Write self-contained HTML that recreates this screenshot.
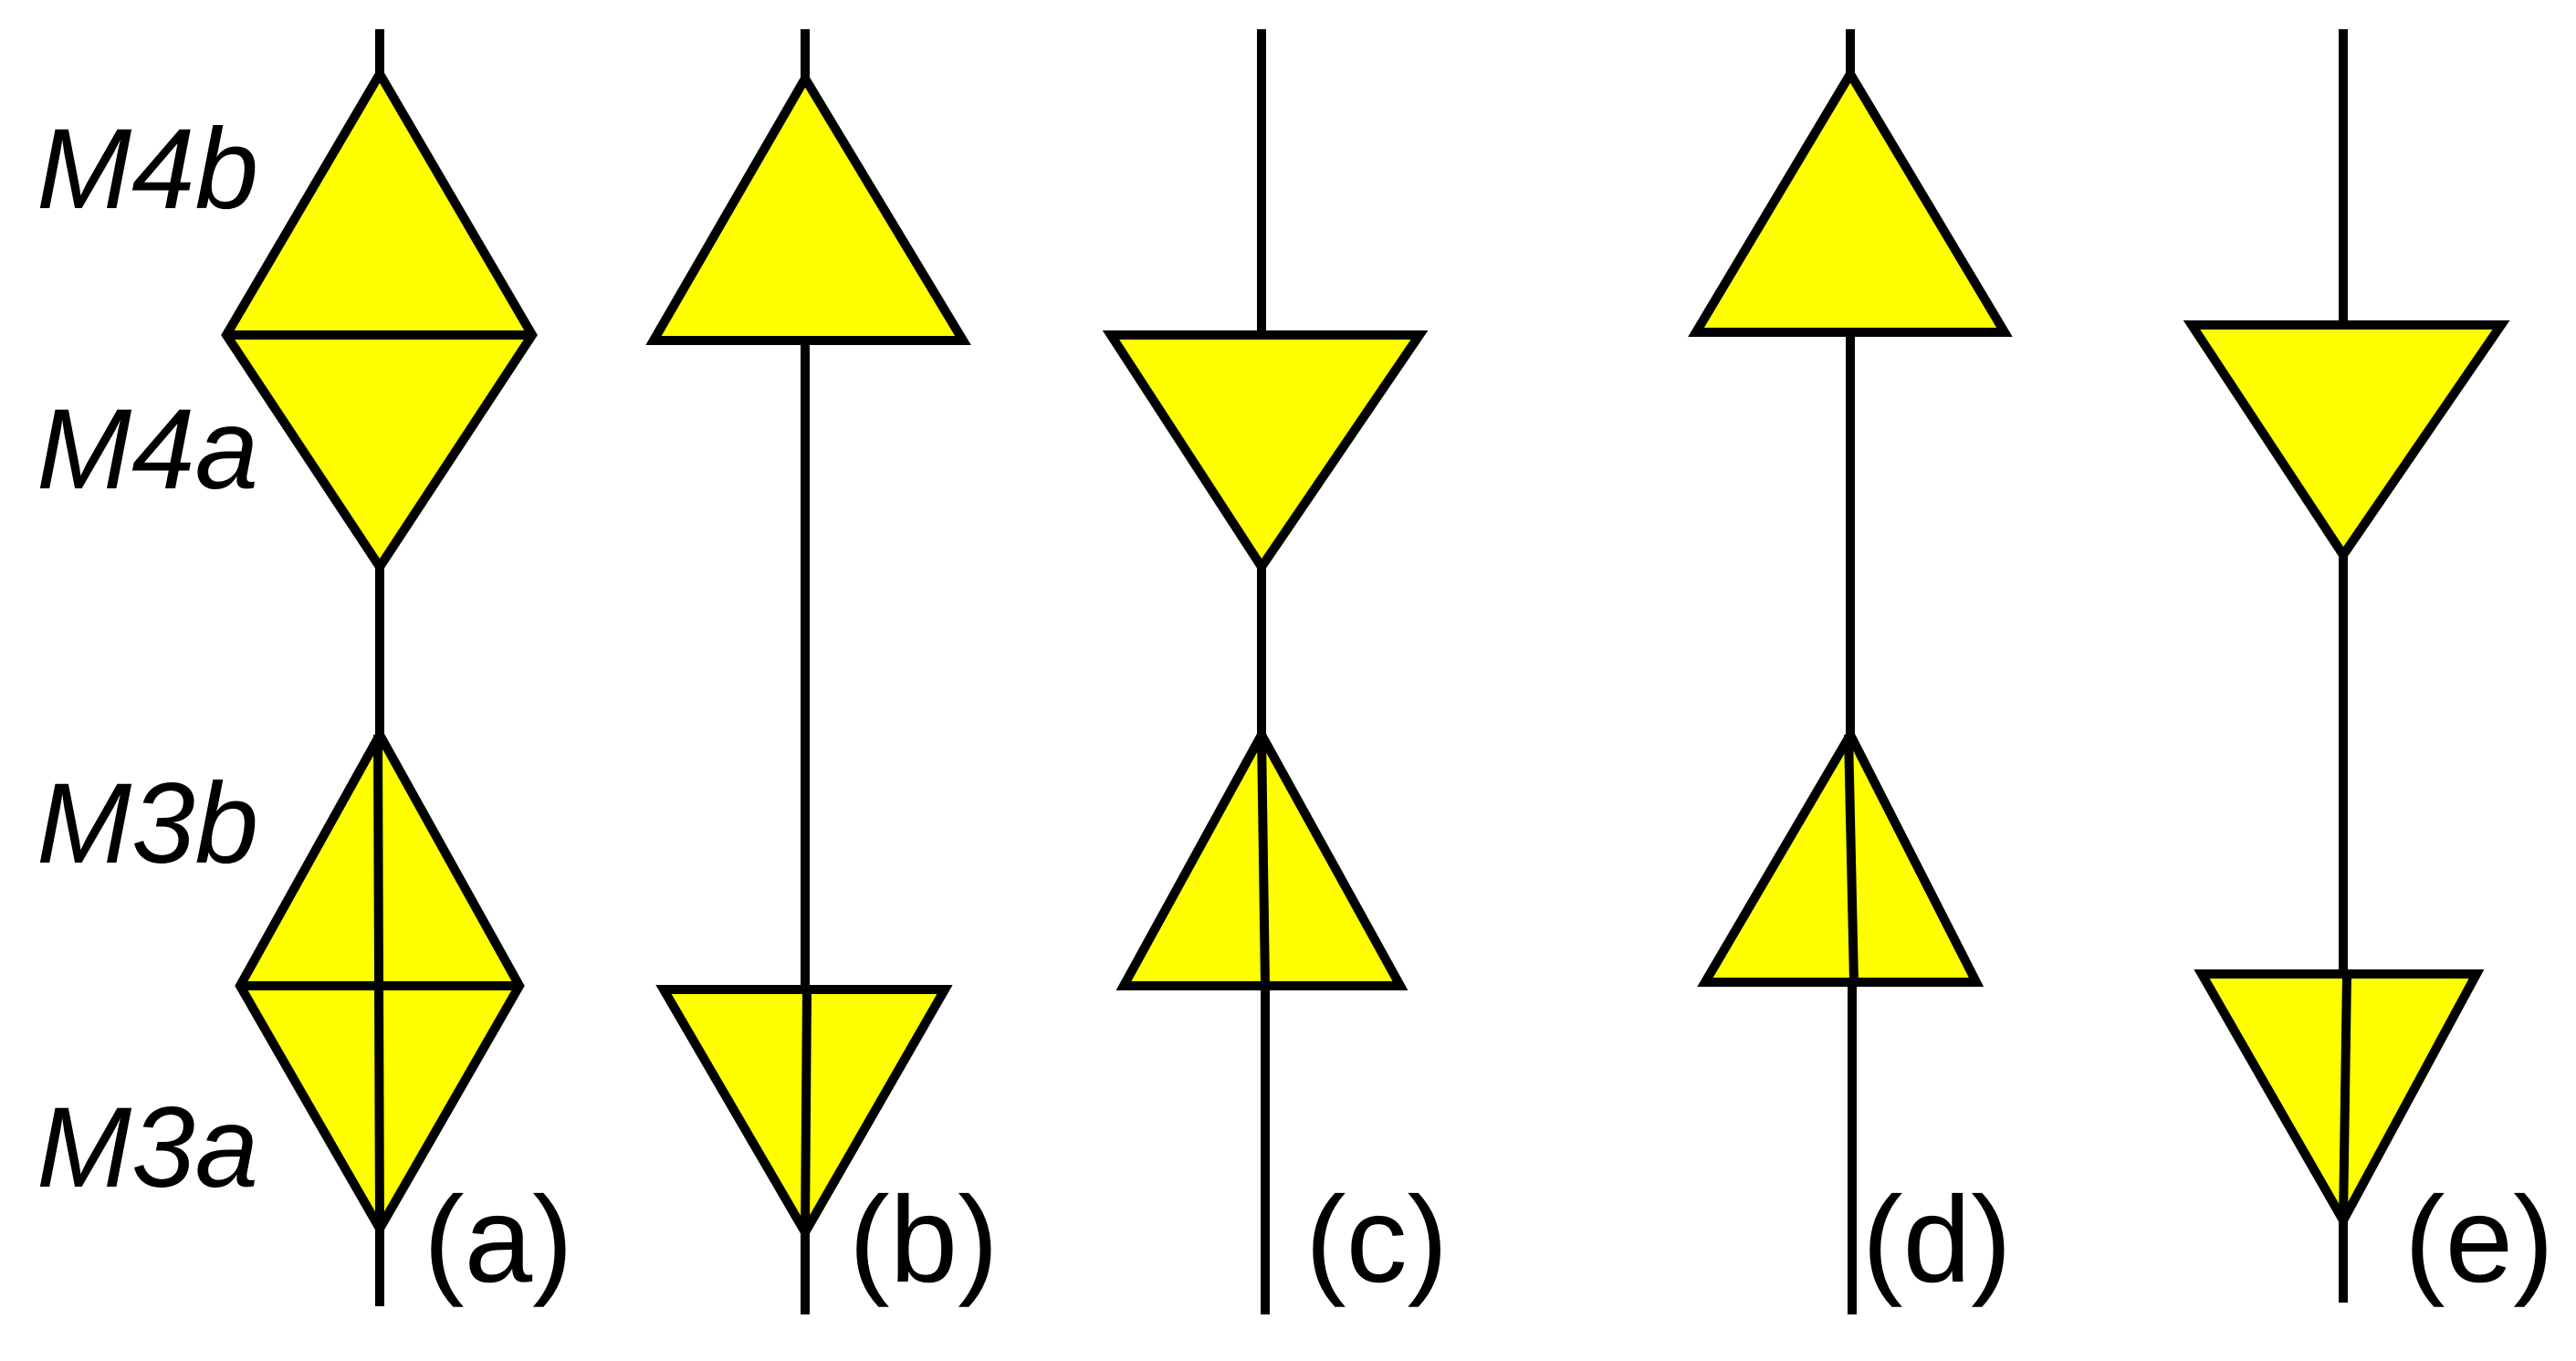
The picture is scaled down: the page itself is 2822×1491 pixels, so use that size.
<!DOCTYPE html>
<html><head><style>
html,body{margin:0;padding:0;background:#fff;}
svg{display:block;}
text{font-family:"Liberation Sans",sans-serif;fill:#000;}
</style></head><body>
<svg width="2822" height="1491" viewBox="0 0 2822 1491" xmlns="http://www.w3.org/2000/svg">
<g stroke="#000" stroke-width="10" fill="#ffff00" stroke-linejoin="miter">
<!-- (a) -->
<line x1="416" y1="32" x2="416" y2="81"/>
<polygon points="416,81 583,367 416,621 248,367"/>
<line x1="248" y1="367" x2="583" y2="367"/>
<line x1="416" y1="621" x2="416" y2="805"/>
<polygon points="416,805 569,1080 416,1346 263,1080"/>
<line x1="263" y1="1080" x2="569" y2="1080"/>
<line x1="414" y1="805" x2="416" y2="1346"/>
<line x1="416" y1="1346" x2="416" y2="1431"/>
<!-- (b) -->
<line x1="882" y1="32" x2="882" y2="86"/>
<polygon points="882,86 1055,373 716,373"/>
<line x1="882" y1="373" x2="882" y2="1084"/>
<polygon points="727,1084 1035,1084 882,1350"/>
<line x1="884" y1="1084" x2="882" y2="1350"/>
<line x1="882" y1="1350" x2="882" y2="1440"/>
<!-- (c) -->
<line x1="1382" y1="32" x2="1382" y2="367"/>
<polygon points="1217,367 1555,367 1382,621"/>
<line x1="1382" y1="621" x2="1382" y2="805"/>
<polygon points="1382,805 1534,1080 1231,1080"/>
<line x1="1382" y1="805" x2="1386" y2="1080"/>
<line x1="1386" y1="1080" x2="1386" y2="1440"/>
<!-- (d) -->
<line x1="2027" y1="32" x2="2027" y2="81"/>
<polygon points="2027,81 2196,364 1858,364"/>
<line x1="2027" y1="364" x2="2027" y2="805"/>
<polygon points="2027,805 2165,1076 1868,1076"/>
<line x1="2025" y1="805" x2="2031" y2="1076"/>
<line x1="2029" y1="1076" x2="2029" y2="1440"/>
<!-- (e) -->
<line x1="2567" y1="32" x2="2567" y2="356"/>
<polygon points="2401,356 2740,356 2567,608"/>
<line x1="2567" y1="608" x2="2567" y2="1067"/>
<polygon points="2412,1067 2713,1067 2567,1337"/>
<line x1="2571" y1="1067" x2="2567" y2="1337"/>
<line x1="2567" y1="1337" x2="2567" y2="1427"/>
</g>
<g font-size="125" font-style="italic">
<text x="40" y="228">M4b</text>
<text x="40" y="535">M4a</text>
<text x="40" y="945">M3b</text>
<text x="40" y="1300">M3a</text>
</g>
<g font-size="134">
<text x="464" y="1404">(a)</text>
<text x="930" y="1404">(b)</text>
<text x="1430" y="1404">(c)</text>
<text x="2040" y="1404">(d)</text>
<text x="2634" y="1404">(e)</text>
</g>
</svg>
</body></html>
